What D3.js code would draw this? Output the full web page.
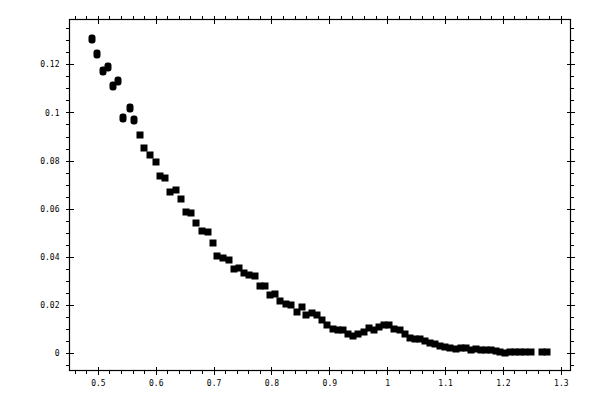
<!DOCTYPE html>
<html lang="en">
<head>
  <meta charset="utf-8">
  <title>Scatter</title>
  <script src="https://d3js.org/d3.v7.min.js"></script>
  <style>
    body { margin: 0; background: #fff; }
    text { font-family: "DejaVu Sans Mono", monospace; font-size: 8px; fill: #000; }
  </style>
</head>
<body>
<div id="chart"></div>
<script>
  // values
  var xVals = [0.4907, 0.4993, 0.5097, 0.5183, 0.5270, 0.5356, 0.5443, 0.5547, 0.5633, 0.5720, 0.5806, 0.5905,
               0.6003, 0.6078, 0.6164, 0.6251, 0.6354, 0.6441, 0.6528, 0.6614, 0.6701, 0.6799, 0.6896, 0.6983,
               0.7059, 0.7163, 0.7260, 0.7346, 0.7433, 0.7519, 0.7618, 0.7709, 0.7796, 0.7882, 0.7969, 0.8067,
               0.8154, 0.8246, 0.8332, 0.8436, 0.8522, 0.8604, 0.8696, 0.8782, 0.8881, 0.8967, 0.9059, 0.9145,
               0.9232, 0.9325, 0.9412, 0.9498, 0.9595, 0.9694, 0.9780, 0.9867, 0.9953, 1.0040, 1.0126, 1.0218,
               1.0304, 1.0391, 1.0478, 1.0564, 1.0651, 1.0737, 1.0824, 1.0910, 1.0997, 1.1083, 1.1182, 1.1268,
               1.1355, 1.1441, 1.1528, 1.1614, 1.1701, 1.1787, 1.1874, 1.1948, 1.2035, 1.2121, 1.2208, 1.2294,
               1.2381, 1.2479, 1.2670, 1.2756];
  var yVals = [0.1304, 0.1245, 0.1174, 0.1188, 0.1111, 0.1132, 0.0978, 0.1017, 0.0968, 0.0905, 0.0854, 0.0822,
               0.0794, 0.0735, 0.0729, 0.0669, 0.0679, 0.0638, 0.0586, 0.0583, 0.0542, 0.0505, 0.0501, 0.0458,
               0.0404, 0.0396, 0.0385, 0.0348, 0.0353, 0.0332, 0.0322, 0.0318, 0.0276, 0.0276, 0.0242, 0.0246,
               0.0214, 0.0204, 0.0200, 0.0169, 0.0189, 0.0155, 0.0165, 0.0155, 0.0138, 0.0117, 0.0100, 0.0096,
               0.0093, 0.0079, 0.0068, 0.0076, 0.0086, 0.0104, 0.0093, 0.0107, 0.0114, 0.0114, 0.0100, 0.0093,
               0.0079, 0.0063, 0.0058, 0.0058, 0.0047, 0.0042, 0.0035, 0.0030, 0.0023, 0.0021, 0.0014, 0.0019,
               0.0019, 0.0010, 0.0014, 0.0010, 0.0010, 0.0010, 0.0007, 0.0003, 0.0000, 0.0005, 0.0005, 0.0005,
               0.0005, 0.0005, 0.0005, 0.0005];

  var xMajor = [0.5, 0.6, 0.7, 0.8, 0.9, 1.0, 1.1, 1.2, 1.3];
  var xMinor = [0.46, 0.48, 0.52, 0.54, 0.56, 0.58, 0.62, 0.64, 0.66, 0.68, 0.72, 0.74, 0.76, 0.78,
                0.82, 0.84, 0.86, 0.88, 0.92, 0.94, 0.96, 0.98, 1.02, 1.04, 1.06, 1.08,
                1.12, 1.14, 1.16, 1.18, 1.22, 1.24, 1.26, 1.28];
  var yMajor = [0, 0.02, 0.04, 0.06, 0.08, 0.1, 0.12];
  var yMinor = [-0.005, 0.005, 0.01, 0.015, 0.025, 0.03, 0.035, 0.045, 0.05, 0.055,
                0.065, 0.07, 0.075, 0.085, 0.09, 0.095, 0.105, 0.11, 0.115, 0.125, 0.13, 0.135];

  var w = 600, h = 400;
  var padL = 69.5, padR = 570.5, padT = 19.5, padB = 370.5;

  var xScale = d3.scaleLinear().domain([0.451, 1.3168]).range([padL, padR]);
  var yScale = d3.scaleLinear().domain([-0.0074, 0.1387]).range([padB, padT]);

  var svg = d3.select("#chart").append("svg")
    .attr("width", w)
    .attr("height", h);

  var fmt = d3.format("~g");

  // points
  svg.append("g")
    .selectAll("rect")
    .data(d3.zip(xVals, yVals))
    .join("rect")
    .attr("x", d => Math.round(xScale(d[0])) - 3.5)
    .attr("y", d => Math.round(yScale(d[1])) - (d[1] > 0.095 ? 4.5 : 3.5))
    .attr("width", 7)
    .attr("height", d => d[1] > 0.095 ? 9 : 7)
    .attr("rx", d => d[1] > 0.095 ? 3 : 0)
    .attr("fill", "#000");

  function majorAxis(gen, pos, labels) {
    var g = svg.append("g")
      .attr("transform", pos)
      .call(gen.tickSize(4).tickSizeOuter(0).tickPadding(labels ? 6 : 0)
        .tickFormat(labels ? fmt : ""));
    g.selectAll("path").remove();
    g.selectAll("line").attr("stroke", "#000");
    return g;
  }

  function minorAxis(gen, pos) {
    var g = svg.append("g")
      .attr("transform", pos)
      .call(gen.tickSize(3.5).tickSizeOuter(0).tickFormat(""));
    g.selectAll("path").remove();
    g.selectAll("line").attr("stroke", "#000");
  }

  // bottom + top
  var gb = majorAxis(d3.axisBottom(xScale).tickValues(xMajor), "translate(0," + padB + ")", true);
  gb.selectAll("line").attr("y1", -4);
  var gt = majorAxis(d3.axisTop(xScale).tickValues(xMajor), "translate(0," + padT + ")", false);
  gt.selectAll("line").attr("y1", 4);
  minorAxis(d3.axisBottom(xScale).tickValues(xMinor), "translate(0," + padB + ")");
  minorAxis(d3.axisTop(xScale).tickValues(xMinor), "translate(0," + padT + ")");

  // left + right
  var gl = majorAxis(d3.axisLeft(yScale).tickValues(yMajor), "translate(" + padL + ",0)", true);
  gl.selectAll("line").attr("x1", 4);
  var gr = majorAxis(d3.axisRight(yScale).tickValues(yMajor), "translate(" + padR + ",0)", false);
  gr.selectAll("line").attr("x1", -4);
  minorAxis(d3.axisLeft(yScale).tickValues(yMinor), "translate(" + padL + ",0)");
  minorAxis(d3.axisRight(yScale).tickValues(yMinor), "translate(" + padR + ",0)");

  svg.selectAll(".tick text")
    .attr("fill", "#000")
    .style("font-family", "'DejaVu Sans Mono', monospace")
    .style("font-size", "8px");

  // frame
  svg.append("rect")
    .attr("x", padL)
    .attr("y", padT)
    .attr("width", padR - padL)
    .attr("height", padB - padT)
    .attr("fill", "none")
    .attr("stroke", "#000")
    .attr("stroke-width", 1.2);

  svg.selectAll("line").attr("shape-rendering", "crispEdges");
</script>
</body>
</html>
